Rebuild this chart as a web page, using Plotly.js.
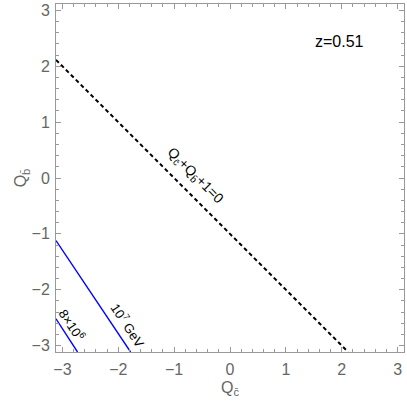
<!DOCTYPE html>
<html>
<head>
<meta charset="utf-8">
<script src="https://cdn.plot.ly/plotly-3.0.1.min.js"></script>
<style>html,body{margin:0;padding:0;background:#fff;}#chart{width:407px;height:406px;}</style>
</head>
<body>
<div id="chart"></div>
<script>
// Lines (Q_cbar on x, Q_bbar on y)
const dashedX = [-3.115, 2.115];
const dashedY = [2.115, -3.115];
const line1e7X = [-3.115, -1.78];
const line1e7Y = [-1.12, -3.115];
const line8e6X = [-3.115, -2.73];
const line8e6Y = [-2.52, -3.115];

const axisRange = [-3.115, 3.115];
const tickVals = [-3, -2, -1, 0, 1, 2, 3];
const tickText = ['\u22123', '\u22122', '\u22121', '0', '1', '2', '3'];

const labels = [
  {x: 1.96, y: 2.45, text: 'z=0.51', angle: 0, size: 16},
  {x: -0.62, y: 0.04, text: 'Q<sub>c\u0304</sub>+Q<sub>b\u0304</sub>+1=0', angle: 45, size: 14},
  {x: -1.83, y: -2.64, text: '10<sup>7</sup> GeV', angle: 56.5, size: 13},
  {x: -2.82, y: -2.625, text: '8\u00d710<sup>6</sup>', angle: 56.5, size: 13}
];

const traces = [
  {x: dashedX, y: dashedY, mode: 'lines', line: {color: '#000', width: 2, dash: '4px,3px'}, hoverinfo: 'skip'},
  {x: line1e7X, y: line1e7Y, mode: 'lines', line: {color: '#0000ff', width: 1.4}, hoverinfo: 'skip'},
  {x: line8e6X, y: line8e6Y, mode: 'lines', line: {color: '#0000ff', width: 1.4}, hoverinfo: 'skip'}
];

const fontFam = 'Liberation Sans, Arial, sans-serif';

const axisCommon = {
  range: axisRange,
  tickvals: tickVals,
  ticktext: tickText,
  ticks: 'inside',
  ticklen: 5,
  tickwidth: 1,
  tickcolor: '#999',
  showline: true,
  linecolor: '#999',
  linewidth: 1,
  mirror: 'allticks',
  showgrid: false,
  zeroline: false,
  tickfont: {family: fontFam, size: 16, color: '#666'},
  minor: {dtick: 0.2, tick0: 0, ticks: 'inside', ticklen: 3, tickcolor: '#999', showgrid: false},
  fixedrange: true
};

const layout = {
  width: 407, height: 406,
  margin: {l: 56, r: 3, t: 4, b: 54},
  paper_bgcolor: '#fff', plot_bgcolor: '#fff',
  showlegend: false,
  xaxis: Object.assign({}, axisCommon, {
    ticklabelstandoff: 3,
    title: {text: 'Q<sub>c\u0304</sub>', font: {family: fontFam, size: 16, color: '#666'}, standoff: 4}
  }),
  yaxis: Object.assign({}, axisCommon, {
    ticklabelstandoff: 2,
    title: {text: 'Q<sub>b\u0304</sub>', font: {family: fontFam, size: 16, color: '#666'}, standoff: 0}
  }),
  annotations: labels.map(l => ({
    x: l.x, y: l.y, xref: 'x', yref: 'y', text: l.text, showarrow: false,
    textangle: l.angle, font: {family: fontFam, size: l.size, color: '#000'}
  }))
};

Plotly.newPlot('chart', traces, layout, {displayModeBar: false, staticPlot: true});
</script>
</body>
</html>
